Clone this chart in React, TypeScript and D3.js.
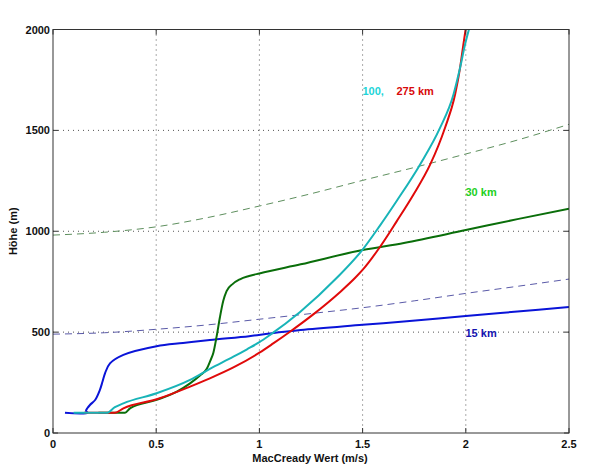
import React from "react";
import * as d3 from "d3";

type P = [number, number];

const xTicks = [0, 0.5, 1, 1.5, 2, 2.5];
const yTicks = [0, 500, 1000, 1500, 2000];

const blue15: P[] = [
  [0.058, 100], [0.168, 100], [0.16, 110], [0.167, 124], [0.179, 139], [0.205, 165],
  [0.226, 210], [0.24, 255], [0.252, 296], [0.276, 345], [0.341, 387], [0.502, 430],
  [0.63, 446], [0.76, 461], [0.95, 480], [1.05, 493], [1.2, 510], [1.5, 536],
  [1.7, 553], [2.0, 580], [2.25, 602], [2.5, 625],
];

const green30: P[] = [
  [0.22, 100], [0.349, 100], [0.373, 122], [0.502, 164], [0.6, 205], [0.664, 246],
  [0.712, 285], [0.745, 318], [0.762, 358], [0.777, 398], [0.793, 480], [0.809, 575],
  [0.825, 655], [0.841, 703], [0.87, 738], [0.906, 762], [0.95, 778], [1.0, 791],
  [1.2, 836], [1.5, 907], [1.7, 942], [2.0, 1006], [2.25, 1060], [2.5, 1112],
];

const cyan100: P[] = [
  [0.1, 100], [0.26, 100], [0.3, 128], [0.341, 147], [0.502, 197], [0.664, 263],
  [0.76, 318], [0.874, 378], [0.94, 415], [1.0, 450], [1.05, 485], [1.197, 600],
  [1.374, 768], [1.5, 909], [1.584, 1028], [1.665, 1150], [1.778, 1330], [1.875, 1512],
  [1.94, 1677], [1.972, 1809], [1.996, 1924], [2.017, 2007],
];

const red275: P[] = [
  [0.15, 100], [0.3, 100], [0.341, 122], [0.502, 167], [0.664, 230], [0.76, 271],
  [0.874, 325], [1.0, 398], [1.067, 444], [1.148, 502], [1.261, 588], [1.39, 698],
  [1.463, 768], [1.503, 812], [1.584, 922], [1.665, 1049], [1.746, 1181], [1.827, 1330],
  [1.899, 1512], [1.948, 1677], [1.972, 1809], [1.988, 1924], [2.0, 2007],
];

const greenDashed: P[] = [
  [0, 981], [0.25, 995], [0.5, 1022], [0.75, 1068], [1.0, 1125], [1.25, 1186],
  [1.5, 1252], [1.75, 1316], [2.0, 1383], [2.25, 1452], [2.5, 1530],
];

const blueDashed: P[] = [
  [0, 490], [0.25, 497], [0.5, 514], [0.75, 536], [1.0, 564], [1.25, 592],
  [1.5, 621], [1.75, 655], [2.0, 692], [2.25, 727], [2.5, 763],
];

const W = 600;
const H = 472;
const L = 53;
const R = 569;
const T = 29.5;
const B = 433;

export default function App() {
  const x = d3.scaleLinear().domain([0, 2.5]).range([L, R]);
  const y = d3.scaleLinear().domain([0, 2000]).range([B, T]);
  const smooth = d3
    .line<P>()
    .x((d) => x(d[0]))
    .y((d) => y(d[1]))
    .curve(d3.curveCatmullRom.alpha(0.5));
  const mono = d3
    .line<P>()
    .x((d) => x(d[0]))
    .y((d) => y(d[1]))
    .curve(d3.curveMonotoneX);

  const font = "'Liberation Sans', Arial, Helvetica, sans-serif";
  const tk = 5;

  return (
    <svg
      width={W}
      height={H}
      style={{ position: "absolute", left: 0, top: 0, background: "#fff" }}
      fontFamily={font}
    >
      <defs>
        <clipPath id="plot">
          <rect x={L} y={T} width={R - L} height={B - T} />
        </clipPath>
      </defs>
      {xTicks.slice(1, -1).map((t) => (
        <line key={"gx" + t} x1={x(t)} x2={x(t)} y1={T} y2={B} stroke="#555" strokeWidth={1} strokeDasharray="1,4" />
      ))}
      {yTicks.slice(1, -1).map((t) => (
        <line key={"gy" + t} x1={L} x2={R} y1={y(t)} y2={y(t)} stroke="#555" strokeWidth={1} strokeDasharray="1,4" />
      ))}
      <g clipPath="url(#plot)" fill="none">
        <path d={mono(greenDashed) || ""} stroke="#5e8f5e" strokeWidth={1} strokeDasharray="7,5" />
        <path d={mono(blueDashed) || ""} stroke="#5a5aa8" strokeWidth={1} strokeDasharray="7,5" />
        <path d={smooth(blue15) || ""} stroke="#0a14d8" strokeWidth={2} />
        <path d={mono(green30) || ""} stroke="#0a6e0a" strokeWidth={2} />
        <path d={mono(red275) || ""} stroke="#e00a0a" strokeWidth={2} />
        <path d={mono(cyan100) || ""} stroke="#18b4b8" strokeWidth={2} />
      </g>
      <rect x={L} y={T} width={R - L} height={B - T} fill="none" stroke="#333" strokeWidth={1} />
      {xTicks.map((t) => (
        <g key={"tx" + t}>
          <line x1={x(t)} x2={x(t)} y1={B} y2={B - tk} stroke="#333" />
          <line x1={x(t)} x2={x(t)} y1={T} y2={T + tk} stroke="#333" />
          <text x={x(t)} y={448} textAnchor="middle" fontSize={11} fontWeight="bold" fill="#111">
            {t}
          </text>
        </g>
      ))}
      {yTicks.map((t) => (
        <g key={"ty" + t}>
          <line x1={L} x2={L + tk} y1={y(t)} y2={y(t)} stroke="#333" />
          <line x1={R} x2={R - tk} y1={y(t)} y2={y(t)} stroke="#333" />
          <text x={50} y={y(t) + 4} textAnchor="end" fontSize={11} fontWeight="bold" fill="#111">
            {t}
          </text>
        </g>
      ))}
      <text x={310} y={462} textAnchor="middle" fontSize={11} fontWeight="bold" fill="#111">
        MacCready Wert (m/s)
      </text>
      <text
        transform={`translate(17,${(T + B) / 2}) rotate(-90)`}
        textAnchor="middle"
        fontSize={11}
        fontWeight="bold"
        fill="#111"
      >
        Höhe (m)
      </text>
      <text x={362.5} y={94.5} fontSize={11} fontWeight="bold" fill="#22d4d8">100,</text>
      <text x={396.5} y={94.5} fontSize={11} fontWeight="bold" fill="#d80a0a">275 km</text>
      <text x={465.5} y={195.5} fontSize={11} fontWeight="bold" fill="#22d022">30 km</text>
      <text x={465.5} y={337} fontSize={11} fontWeight="bold" fill="#1414b0">15 km</text>
    </svg>
  );
}
